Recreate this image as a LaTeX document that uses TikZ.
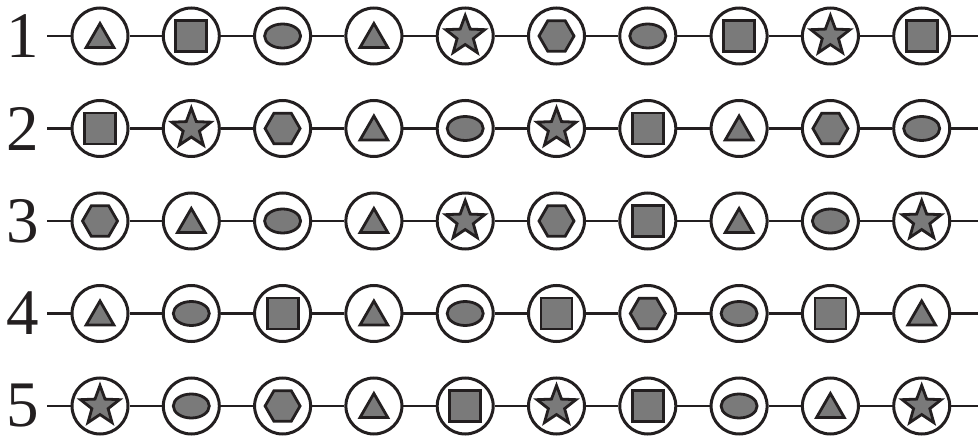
\documentclass[tikz,border=0pt]{standalone}
\usepackage{fontspec}
\setmainfont{Liberation Serif}
\usetikzlibrary{shapes.geometric}
\definecolor{ink}{HTML}{231F20}
\definecolor{shade}{HTML}{7A7A7A}

\begin{document}
\begin{tikzpicture}[x=1pt,y=-1pt,
                    ring/.style={circle,draw=ink,fill=white,line width=3pt,minimum size=56pt,inner sep=0pt},
                    inner/.style={draw=ink,fill=shade,line width=2.8pt,inner sep=0pt},
                    tri/.style={inner,regular polygon,regular polygon sides=3,minimum size=32pt,yshift=-3.5pt},
                    sq/.style={inner,rectangle,minimum size=31pt},
                    ell/.style={inner,ellipse,minimum width=36pt,minimum height=24pt},
                    st/.style={inner,star,star points=5,star point ratio=2.4,minimum size=41pt},
                    hex/.style={inner,regular polygon,regular polygon sides=6,minimum size=35pt},
                    num/.style={font=\fontsize{65}{65}\selectfont,text=ink,inner xsep=8pt,inner ysep=0pt},
                    wire/.style={draw=ink,line width=2.3pt}]
  \useasboundingbox (0,0) rectangle (978,441);
  % one row per sequence
  \foreach \row [count=\r] in {{tri,sq,ell,tri,st,hex,ell,sq,st,sq},
                               {sq,st,hex,tri,ell,st,sq,tri,hex,ell},
                               {hex,tri,ell,tri,st,hex,sq,tri,ell,st},
                               {tri,ell,sq,tri,ell,sq,hex,ell,sq,tri},
                               {st,ell,hex,tri,sq,st,sq,ell,tri,st}} {
    \node[num] (n\r) at (23,{36+92.5*(\r-1)}) {\r};
    \coordinate (e\r) at (978,{36+92.5*(\r-1)});
    \foreach \s [count=\c] in \row {
      \node[ring] (c\r-\c) at ({100+91.3*(\c-1)},{36+92.5*(\r-1)}) {};
      \node[\s] (s\r-\c) at (c\r-\c) {};
    }
    \draw[wire] (n\r) -- (c\r-1);
    \foreach \c [remember=\c as \p (initially 1)] in {2,...,10}
      \draw[wire] (c\r-\p) -- (c\r-\c);
    \draw[wire] (c\r-10) -- (e\r);
  }
\end{tikzpicture}
\end{document}
